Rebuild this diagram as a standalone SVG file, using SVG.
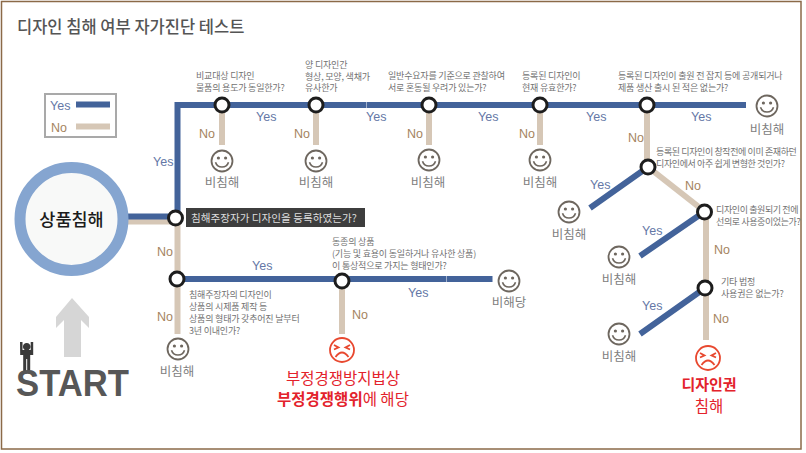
<svg xmlns="http://www.w3.org/2000/svg" xmlns:xlink="http://www.w3.org/1999/xlink" width="806" height="453" viewBox="0 0 806 453">
<style>
text{font-family:"Noto Sans CJK KR","Noto Sans",sans-serif}
.y{stroke:#43639a;stroke-width:6;fill:none}
.n{stroke:#d6c7b6;stroke-width:6;fill:none}
.dot{fill:#fff;stroke:#1d1d1d;stroke-width:3}
.ly{font-family:"Liberation Sans",sans-serif;font-size:12.5px;fill:#6478a6}
.ln{font-family:"Liberation Sans",sans-serif;font-size:12.5px;fill:#a5845f}
.q{font-size:9px;letter-spacing:-.2px;fill:#727272}
.t{letter-spacing:-.4px}
.r{font-size:12.500px;fill:#808080;text-anchor:middle}
.red{fill:#e3222b;text-anchor:middle}
.st{font-family:"Liberation Sans",sans-serif;font-size:36px;font-weight:700;fill:#575757}
</style>
<defs>
<g id="smile"><circle r="10.500" fill="#fff" stroke="#6e675f" stroke-width="1.800"/><circle cx="-3.600" cy="-3" r="1.600" fill="#6e675f"/><circle cx="3.600" cy="-3" r="1.600" fill="#6e675f"/><path d="M-6.500 1.200A6.800 6.800 0 0 0 6.500 1.200" fill="none" stroke="#6e675f" stroke-width="1.600"/></g>
<g id="angry"><circle r="12" fill="#fff" stroke="#e8482f" stroke-width="1.800"/><path d="M-8-5-3.500-2.600-8-.5M8-5 3.500-2.600 8-.5M-6.500 7Q0-2 6.500 7" fill="none" stroke="#e8482f" stroke-width="1.800"/></g>
</defs>
<rect x="1.500" y="1.500" width="799.500" height="447.500" fill="#fff" stroke="#8b6a48" stroke-width="1.500"/>
<text id="title" x="17" y="33" font-size="16.500" font-weight="500" fill="#555">디자인 침해 여부 자가진단 테스트</text>
<g id="legend"><rect x="45" y="94" width="71" height="43" fill="#fff" stroke="#a9a9a9" stroke-width="2"/><text class="ly" x="50" y="110">Yes</text><line class="y" x1="76" y1="104.500" x2="110" y2="104.500"/><text class="ln" x="51" y="131.500">No</text><line class="n" x1="76" y1="126.500" x2="110" y2="126.500"/></g>
<g id="connectors">
<line class="n" x1="128" y1="221.500" x2="177.500" y2="221.500"/>
<line class="y" x1="128" y1="216.500" x2="177" y2="216.500"/>
<path class="n" d="M177.500 220V334"/>
<path class="y" d="M177.500 218V105H366"/>
<path class="y" d="M366.500 105H746"/>
<path class="y" d="M177 279H446"/>
<path class="y" d="M446.500 279H492.500"/>
<path class="n" d="M222 105V145M316 105V145M429 105V145M540 105V145M647 105V167M342 281V334"/>
<path class="n" d="M648 167 704 211M706 212V340"/>
<path class="y" d="M648 167 590 208M704 212 640 256M705 288 640 334"/>
</g>
<g id="start-circle"><circle cx="71.500" cy="219" r="51.500" fill="#f8f9f8" stroke="#85a5d0" stroke-width="11"/><text x="71.500" y="226" text-anchor="middle" font-size="17.500" font-weight="500" fill="#1c1c1c">상품침해</text></g>
<g id="start"><path d="M72 298 89 317V328L81 320V357H64V320L56 328V317Z" fill="#d6d6d6"/>
<path d="M20 342h2.500v8h2.200a3.800 3.800 0 1 1 4 0h2V342h2.500v13h-3v17h-3v-13h-1v13h-3v-17h-3z" fill="#3a3a3a"/>
<text class="st" x="16" y="396" textLength="113" lengthAdjust="spacingAndGlyphs">START</text></g>
<g id="q0"><circle class="dot" cx="175.500" cy="218" r="7"/><rect x="186" y="208" width="179" height="19" fill="#3d3d3d"/><text x="191" y="222" font-size="10.600" fill="#ddd">침해주장자가 디자인을 등록하였는가?</text><text class="ly" x="153" y="166">Yes</text><text class="ln" x="157" y="256">No</text></g>
<g id="q1"><circle class="dot" cx="222" cy="105" r="7"/><text class="q" x="196" y="79">비교대상 디자인</text><text class="q" x="196" y="91">물품의 용도가 동일한가?</text><text class="ly" x="256" y="121">Yes</text><text class="ln" x="199" y="138">No</text><use xlink:href="#smile" x="222" y="161"/><text class="r" x="222" y="187">비침해</text></g>
<g id="q2"><circle class="dot" cx="316" cy="105" r="7"/><text class="q" x="305" y="68">양 디자인간</text><text class="q" x="305" y="79.500">형상, 모양, 색채가</text><text class="q" x="305" y="91">유사한가</text><text class="ly" x="366" y="121">Yes</text><text class="ln" x="294" y="138">No</text><use xlink:href="#smile" x="316" y="161"/><text class="r" x="316" y="187">비침해</text></g>
<g id="q3"><circle class="dot" cx="429" cy="105" r="7"/><text class="q" x="388" y="79">일반수요자를 기준으로 관찰하여</text><text class="q" x="388" y="91">서로 혼동될 우려가 있는가?</text><text class="ly" x="478" y="121">Yes</text><text class="ln" x="407" y="138">No</text><use xlink:href="#smile" x="429" y="160"/><text class="r" x="428" y="187">비침해</text></g>
<g id="q4"><circle class="dot" cx="540" cy="105" r="7"/><text class="q" x="522" y="79">등록된 디자인이</text><text class="q" x="522" y="91">현재 유효한가?</text><text class="ly" x="586" y="121">Yes</text><text class="ln" x="519" y="138">No</text><use xlink:href="#smile" x="540" y="160"/><text class="r" x="540" y="187">비침해</text></g>
<g id="q5"><circle class="dot" cx="647" cy="105" r="7"/><text class="q" x="618" y="79">등록된 디자인이 출원 전 잡지 등에 공개되거나</text><text class="q" x="618" y="91">제품 생산 출시 된 적은 없는가?</text><text class="ly" x="691" y="121">Yes</text><text class="ln" x="628" y="142">No</text><use xlink:href="#smile" x="767" y="106"/><text class="r" x="767" y="134">비침해</text></g>
<g id="q6"><circle class="dot" cx="648" cy="167" r="7"/><text class="q t" x="656" y="155">등록된 디자인이 창작전에 이미 존재하던</text><text class="q t" x="656" y="167">디자인에서 아주 쉽게 변형한 것인가?</text><text class="ly" x="590" y="189">Yes</text><text class="ln" x="685" y="190">No</text><use xlink:href="#smile" x="569" y="212"/><text class="r" x="569" y="239">비침해</text></g>
<g id="q7"><circle class="dot" cx="704.500" cy="212" r="7"/><text class="q t" x="716" y="212.500">디자인이 출원되기 전에</text><text class="q t" x="716" y="224.500">선의로 사용중이었는가?</text><text class="ly" x="642" y="235">Yes</text><text class="ln" x="714" y="254">No</text><use xlink:href="#smile" x="619" y="257"/><text class="r" x="619" y="284">비침해</text></g>
<g id="q8"><circle class="dot" cx="705" cy="288" r="7"/><text class="q" x="721" y="285">기타 법정</text><text class="q" x="721" y="297">사용권은 없는가?</text><text class="ly" x="642" y="310">Yes</text><text class="ln" x="713" y="323">No</text><use xlink:href="#smile" x="619" y="334"/><text class="r" x="619" y="361">비침해</text></g>
<g id="q9"><circle class="dot" cx="177" cy="279" r="7"/><text class="q" x="189" y="298">침해주장자의 디자인이</text><text class="q" x="189" y="310">상품의 시제품 제작 등</text><text class="q" x="189" y="322">상품의 형태가 갖추어진 날부터</text><text class="q" x="189" y="334">3년 이내인가?</text><text class="ly" x="252" y="270">Yes</text><text class="ln" x="157" y="321">No</text><use xlink:href="#smile" x="178" y="349"/><text class="r" x="177" y="376">비침해</text></g>
<g id="q10"><circle class="dot" cx="342" cy="281" r="7"/><text class="q" x="332" y="245">동종의 상품</text><text class="q" x="332" y="257">(기능 및 효용이 동일하거나 유사한 상품)</text><text class="q" x="332" y="269">이 통상적으로 가지는 형태인가?</text><text class="ly" x="408" y="297">Yes</text><text class="ln" x="352" y="319">No</text><use xlink:href="#smile" x="509" y="281"/><text class="r" x="509" y="307">비해당</text></g>
<g id="result-unfair"><use xlink:href="#angry" x="342" y="350"/><text class="red" x="343" y="384" font-size="15.500">부정경쟁방지법상</text><text class="red" x="343" y="405" font-size="15.500"><tspan font-weight="700">부정경쟁행위</tspan>에 해당</text></g>
<g id="result-design"><use xlink:href="#angry" x="708" y="358"/><text class="red" x="709" y="390" font-size="15" font-weight="700">디자인권</text><text class="red" x="709" y="412" font-size="15.500">침해</text></g>
</svg>
